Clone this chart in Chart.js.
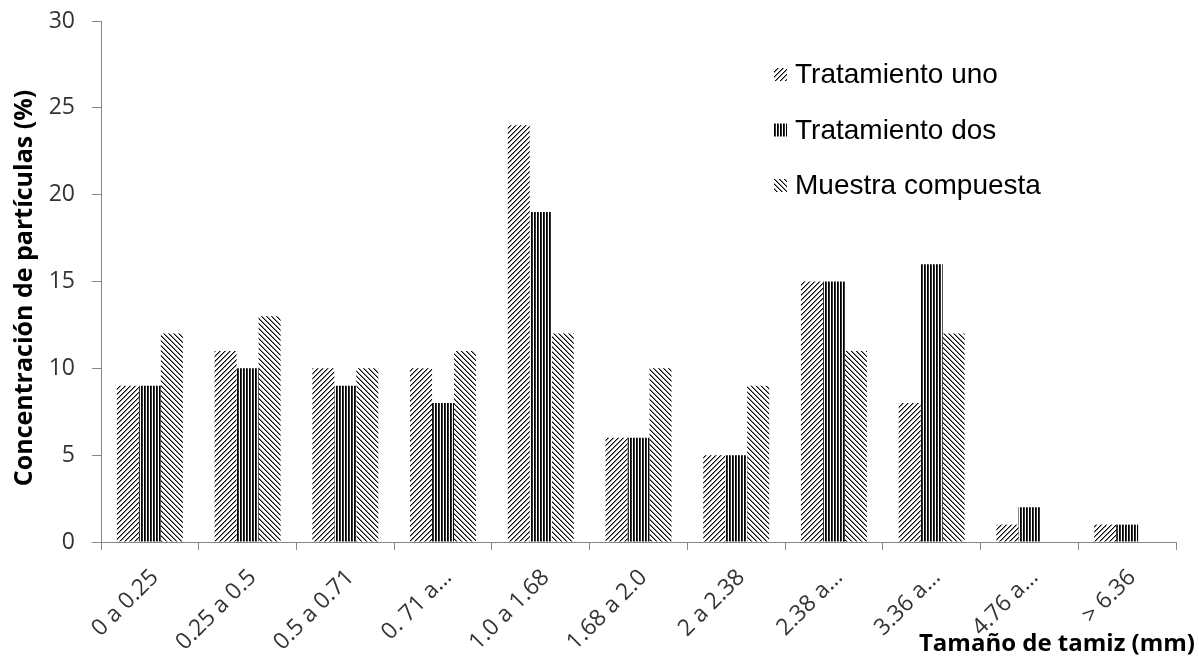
<!DOCTYPE html>
<html>
<head>
<meta charset="utf-8">
<script src="https://cdn.jsdelivr.net/npm/chart.js@4/dist/chart.umd.min.js"></script>
<style>
  html, body { margin: 0; padding: 0; background: #fff; }
  #wrap { width: 1199px; height: 665px; position: relative; }
</style>
</head>
<body>
<div id="wrap"><canvas id="c" width="1199" height="665"></canvas></div>
<script>
// Sieve size classes (mm)
const categories = ['0 a 0.25', '0.25 a 0.5', '0.5 a 0.71', '0. 71 a\u2026', '1.0 a 1.68',
  '1.68 a 2.0', '2 a 2.38', '2.38 a\u2026', '3.36 a\u2026', '4.76 a\u2026', '> 6.36'];

// Particle concentration (%) per treatment
const tratamientoUno = [9, 11, 10, 10, 24, 6, 5, 15, 8, 1, 1];
const tratamientoDos = [9, 10, 9, 8, 19, 6, 5, 15, 16, 2, 1];
const muestraCompuesta = [12, 13, 10, 11, 12, 10, 9, 11, 12, 0, 0];

const yTicks = [0, 5, 10, 15, 20, 25, 30];

// Hatch fills built from small pixel tiles
function hatch(kind) {
  const n = kind === 'vert' ? 3 : 5;
  const t = document.createElement('canvas');
  t.width = n; t.height = n;
  const g = t.getContext('2d');
  g.fillStyle = '#fff';
  g.fillRect(0, 0, n, n);
  for (let y = 0; y < n; y++) {
    for (let x = 0; x < n; x++) {
      let v;
      if (kind === 'up') v = (x + y) % n;
      else if (kind === 'down') v = ((x - y) % n + n) % n;
      else v = x;
      if (v === 0) { g.fillStyle = '#000'; g.fillRect(x, y, 1, 1); }
      else if (v === 1) { g.fillStyle = kind === 'vert' ? '#333' : '#8a8a8a'; g.fillRect(x, y, 1, 1); }
    }
  }
  return g.createPattern(t, 'repeat');
}

const pUp = hatch('up');
const pVert = hatch('vert');
const pDown = hatch('down');

Chart.defaults.font.family = '"Open Sans", sans-serif';
Chart.defaults.font.size = 23;
const tickColor = '#333333';
const axisGray = '#868686';

// Vertical legend inside the plot plus the two axis titles
const decorations = {
  id: 'decorations',
  afterDraw(chart) {
    const ctx = chart.ctx;
    ctx.save();
    ctx.font = '28px "Liberation Sans", Arial, sans-serif';
    ctx.textBaseline = 'alphabetic';
    ctx.textAlign = 'left';
    chart.data.datasets.forEach((ds, i) => {
      const base = 83 + i * 55.5;
      ctx.fillStyle = ds.backgroundColor;
      ctx.fillRect(774, base - 15, 13, 13);
      ctx.fillStyle = '#000';
      ctx.fillText(ds.label, 795, base);
    });

    ctx.font = 'bold 24px "Open Sans", sans-serif';
    ctx.fillStyle = '#000';
    ctx.textAlign = 'right';
    ctx.textBaseline = 'middle';
    ctx.fillText('Tama\u00f1o de tamiz (mm)', 1195, 644);

    ctx.font = 'bold 25px "Open Sans", sans-serif';
    ctx.translate(25, 288);
    ctx.rotate(-Math.PI / 2);
    ctx.textAlign = 'center';
    ctx.fillText('Concentraci\u00f3n de part\u00edculas (%)', 0, 0);
    ctx.restore();
  }
};

new Chart(document.getElementById('c'), {
  type: 'bar',
  data: {
    labels: categories,
    datasets: [
      { label: 'Tratamiento uno', data: tratamientoUno, backgroundColor: pUp },
      { label: 'Tratamiento dos', data: tratamientoDos, backgroundColor: pVert },
      { label: 'Muestra compuesta', data: muestraCompuesta, backgroundColor: pDown }
    ]
  },
  options: {
    responsive: false,
    animation: false,
    layout: { padding: { top: 21, right: 23, left: 0, bottom: 0 } },
    datasets: { bar: { categoryPercentage: 0.675, barPercentage: 1, borderWidth: 0 } },
    plugins: { legend: { display: false }, tooltip: { enabled: false } },
    scales: {
      x: {
        grid: { display: true, drawOnChartArea: false, offset: true, tickLength: 8, color: axisGray },
        border: { color: axisGray },
        ticks: {
          font: { family: '"Open Sans", sans-serif', size: 23 },
          color: tickColor, minRotation: 45, maxRotation: 45, autoSkip: false,
          padding: 14, labelOffset: 5
        },
        afterFit(s) { s.height = 665 - 542; s.paddingLeft = 0; s.paddingRight = 0; }
      },
      y: {
        min: 0, max: 30,
        afterBuildTicks(s) { s.ticks = yTicks.map(v => ({ value: v })); },
        grid: { display: true, drawOnChartArea: false, tickLength: 9, color: axisGray },
        border: { color: axisGray },
        ticks: { font: { family: '"Open Sans", sans-serif', size: 23 }, color: tickColor, padding: 17 },
        afterFit(s) { s.width = 101; s.paddingTop = 0; s.paddingBottom = 0; }
      }
    }
  },
  plugins: [decorations]
});
</script>
</body>
</html>
